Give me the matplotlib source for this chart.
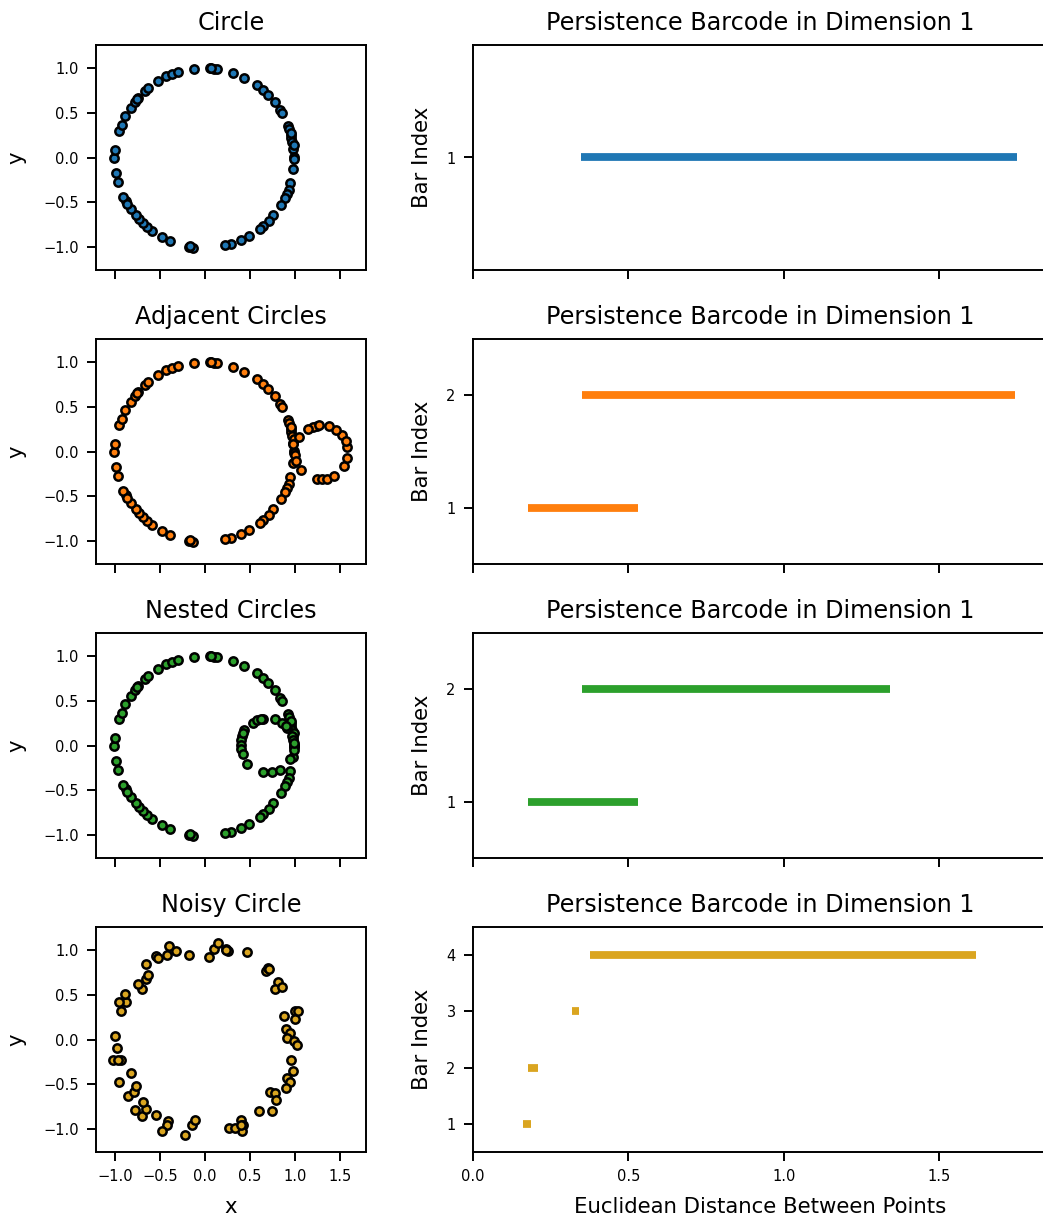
import numpy as np
import matplotlib
matplotlib.use("Agg")
import matplotlib.pyplot as plt

# points of the unit circle
circle_x = [-0.126, 0.056, 0.100, 0.130, 0.307, 0.437, 0.581, 0.648, 0.704, 0.781,
            0.830, 0.856, 0.922, 0.937, 0.952, 0.959, 0.970, 0.978, 0.989, 0.993,
            0.981, 0.948, 0.930, 0.907, 0.889, 0.844, 0.759, 0.707, 0.641, 0.611,
            0.493, 0.396, 0.285, 0.222, -0.133, -0.181, -0.389, -0.481, -0.593, -0.641,
            -0.685, -0.733, -0.767, -0.826, -0.878, -0.907, -0.963, -0.989, -1.007, -1.000,
            -0.959, -0.926, -0.885, -0.826, -0.778, -0.741, -0.663, -0.630, -0.522, -0.433,
            -0.370, -0.304, -0.160, 0.070, 0.960, 0.985, -0.750, -0.860]
circle_y = [0.996, 1.004, 0.993, 0.989, 0.951, 0.891, 0.813, 0.753, 0.704, 0.618,
            0.536, 0.502, 0.356, 0.315, 0.247, 0.221, 0.172, 0.097, 0.011, -0.015,
            -0.127, -0.285, -0.360, -0.408, -0.453, -0.528, -0.640, -0.712, -0.772, -0.801,
            -0.876, -0.929, -0.970, -0.985, -1.011, -1.000, -0.940, -0.895, -0.824, -0.775,
            -0.734, -0.689, -0.648, -0.573, -0.491, -0.438, -0.270, -0.169, -0.007, 0.082,
            0.292, 0.360, 0.464, 0.558, 0.625, 0.667, 0.745, 0.779, 0.854, 0.910,
            0.933, 0.955, -0.995, 1.000, 0.270, 0.140, 0.655, -0.520]

# small circle next to the big one
adj_x = [1.048, 0.996, 1.015, 1.063, 1.248, 1.304, 1.352, 1.437, 1.544, 1.578,
         1.581, 1.519, 1.456, 1.374, 1.248, 1.204, 1.148, 0.981, 1.270, 1.565]
adj_y = [0.161, -0.037, -0.101, -0.206, -0.307, -0.311, -0.307, -0.273, -0.161, -0.071,
         0.056, 0.187, 0.243, 0.285, 0.288, 0.273, 0.255, 0.086, 0.295, 0.120]

# small circle inside the big one
nest_x = [0.437, 0.415, 0.400, 0.396, 0.400, 0.419, 0.470, 0.641, 0.741, 0.833,
          0.537, 0.574, 0.641, 0.778, 0.852, 0.915, 0.967, 0.981, 0.989, 0.989,
          0.944, 0.420, 0.620, 0.900, 0.995]
nest_y = [0.172, 0.112, 0.067, 0.011, -0.034, -0.090, -0.202, -0.300, -0.300, -0.270,
          0.254, 0.284, 0.300, 0.300, 0.254, 0.199, 0.105, 0.067, 0.000, -0.052,
          -0.146, 0.140, 0.295, 0.220, 0.030]

noisy_x = [-0.400, -0.322, -0.419, -0.544, -0.519, -0.174, 0.048, 0.100, 0.141, 0.233,
           0.259, 0.470, 0.674, 0.704, 0.807, 0.778, 0.859, 1.000, 0.878, 1.004,
           0.900, 0.944, 0.915, 0.989, 1.026, 0.959, 0.981, 0.907, 0.944, 0.896,
           0.726, 0.781, 0.789, 0.604, 0.741, 0.396, 0.419, 0.411, 0.270, 0.333,
           -0.148, -0.111, -0.222, -0.407, -0.426, -0.481, -0.548, -0.704, -0.659, -0.774,
           -0.693, -0.852, -0.785, -0.763, -0.826, -0.952, -0.937, -1.019, -0.974, -1.000,
           -0.933, -0.878, -0.959, -0.889, -0.696, -0.741, -0.656, -0.637, -0.659, 0.237,
           1.030, 0.710, -0.960, 0.400]
noisy_y = [1.049, 0.993, 0.944, 0.936, 0.918, 0.944, 0.929, 1.019, 1.079, 1.019,
           0.993, 0.985, 0.768, 0.805, 0.644, 0.569, 0.588, 0.318, 0.258, 0.225,
           0.120, 0.075, 0.019, -0.019, -0.067, -0.225, -0.356, -0.431, -0.479, -0.543,
           -0.592, -0.599, -0.674, -0.805, -0.805, -0.899, -0.955, -1.022, -0.993, -0.993,
           -0.955, -0.906, -1.075, -0.918, -0.955, -1.022, -0.843, -0.854, -0.779, -0.787,
           -0.704, -0.629, -0.592, -0.524, -0.375, -0.476, -0.225, -0.225, -0.094, 0.037,
           0.318, 0.423, 0.423, 0.506, 0.562, 0.618, 0.674, 0.723, 0.850, 1.000,
           0.318, 0.790, -0.225, -0.960]

# persistence intervals (birth, death) in dimension 1
bars_circle = [(0.349, 1.749)]
bars_adjacent = [(0.177, 0.531), (0.350, 1.745)]
bars_nested = [(0.177, 0.531), (0.350, 1.341)]
bars_noisy = [(0.161, 0.188), (0.176, 0.208), (0.318, 0.342), (0.378, 1.617)]

titles = ["Circle", "Adjacent Circles", "Nested Circles", "Noisy Circle"]
colors = ["#1f77b4", "#ff7f0e", "#2ca02c", "#daa520"]

datasets = [
    (circle_x, circle_y),
    (circle_x + adj_x, circle_y + adj_y),
    (circle_x + nest_x, circle_y + nest_y),
    (noisy_x, noisy_y),
]
barcodes = [bars_circle, bars_adjacent, bars_nested, bars_noisy]

plt.rcParams.update({
    "axes.linewidth": 1.4,
    "xtick.major.size": 6.5,
    "ytick.major.size": 6.5,
    "xtick.major.width": 1.4,
    "ytick.major.width": 1.4,
    "xtick.major.pad": 6,
    "ytick.major.pad": 6,
    "xtick.labelsize": 10.5,
    "ytick.labelsize": 10.5,
})

W, H = 1043, 1221
fig = plt.figure(figsize=(W / 100, H / 100), dpi=100)

row_tops = [45, 339, 633, 927]
row_h = 225
left_ax, right_ax = [], []
for i, top in enumerate(row_tops):
    b = 1 - (top + row_h) / H
    h = row_h / H
    axl = fig.add_axes([96 / W, b, 270 / W, h],
                       sharex=left_ax[0] if left_ax else None)
    axr = fig.add_axes([473 / W, b, 575 / W, h],
                       sharex=right_ax[0] if right_ax else None)
    left_ax.append(axl)
    right_ax.append(axr)

for i in range(4):
    axl = left_ax[i]
    xs, ys = datasets[i]
    axl.scatter(xs, ys, s=36, c=colors[i], edgecolors="black", linewidths=1.8, zorder=3)
    axl.set_title(titles[i], fontsize=17.2, pad=11)
    axl.set_ylabel("y", fontsize=15.3, labelpad=12)
    axl.set_xlim(-1.21, 1.79)
    axl.set_ylim(-1.26, 1.26)
    axl.set_xticks([-1.0, -0.5, 0.0, 0.5, 1.0, 1.5])
    axl.set_yticks([-1.0, -0.5, 0.0, 0.5, 1.0])

    axr = right_ax[i]
    for k, (birth, death) in enumerate(barcodes[i]):
        axr.plot([birth, death], [k + 1, k + 1], color=colors[i], lw=5.6,
                 solid_capstyle="butt")
    n = len(barcodes[i])
    axr.set_ylim(0.5, n + 0.5)
    axr.set_yticks(range(1, n + 1))
    axr.set_xlim(0, 1.85)
    axr.set_xticks([0.0, 0.5, 1.0, 1.5])
    axr.set_title("Persistence Barcode in Dimension 1", fontsize=17.2, pad=11)
    axr.set_ylabel("Bar Index", fontsize=15.3, labelpad=10)

    if i < 3:
        axl.tick_params(labelbottom=False)
        axr.tick_params(labelbottom=False)

left_ax[3].set_xlabel("x", fontsize=15.3, labelpad=9)
right_ax[3].set_xlabel("Euclidean Distance Between Points", fontsize=15.3, labelpad=9)

fig.savefig("out.png", dpi=100)
